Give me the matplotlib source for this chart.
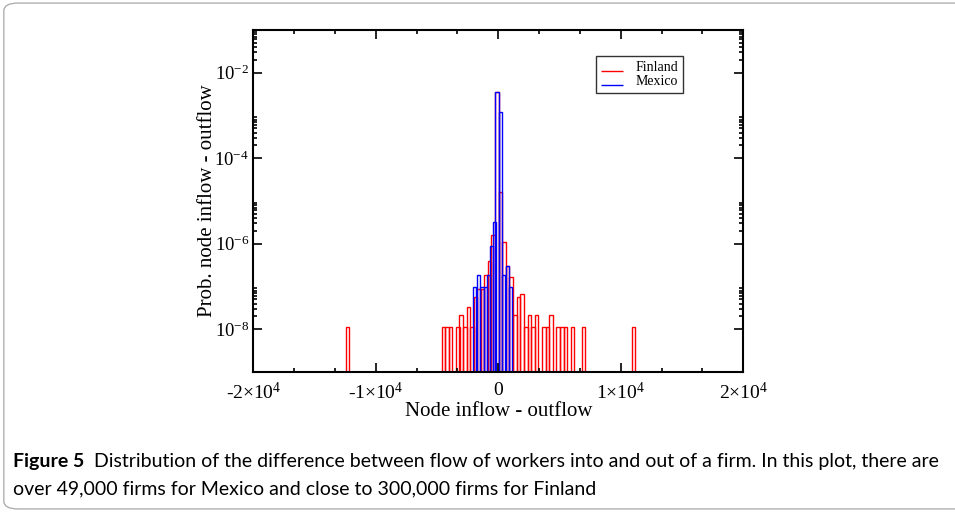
"""Net worker flow per firm: Finland vs Mexico (log-scale histogram)."""
import matplotlib

matplotlib.use("Agg")
import matplotlib.pyplot as plt
from matplotlib.patches import FancyBboxPatch

plt.rcParams["font.family"] = ["Liberation Serif", "DejaVu Serif"]
plt.rcParams["mathtext.fontset"] = "custom"
plt.rcParams["mathtext.rm"] = "Liberation Serif"
plt.rcParams["mathtext.it"] = "Liberation Serif:italic"

# --- data ---------------------------------------------------------------
fin_width = 292
fin_centers = [-12300, -4470, -4180, -3890, -3310, -3020, -2730, -2440, -2150,
               -1860, -1570, -1280, -990, -700, -410, -120, 175, 470, 765,
               1060, 1355, 1650, 1945, 2240, 2535, 2830, 3125, 3715, 4010,
               4305, 4895, 5190, 5485, 6075, 6960, 11040]
fin_probs = [1.1e-8, 1.1e-8, 1.1e-8, 1.1e-8, 1.1e-8, 2.2e-8, 1.1e-8, 3.3e-8, 1.1e-8,
             5.7e-8, 8.8e-8, 8.8e-8, 1.9e-7, 4e-7, 1.6e-6, 3.5e-3, 1.6e-5, 1.1e-6, 3e-7,
             1.7e-7, 2.2e-8, 5.7e-8, 6.8e-8, 1.1e-8, 2.2e-8, 1.1e-8, 2.2e-8, 1.1e-8,
             1.1e-8, 2.2e-8, 1.1e-8, 1.1e-8, 1.1e-8, 1.1e-8, 1.1e-8, 1.1e-8]

mex_width = 272
mex_centers = [-1943, -1616, -1331, -1061, -784, -539, -327, -106, 163, 449, 735, 996]
mex_probs = [9.8e-8, 1.9e-7, 9.8e-8, 9.8e-8, 1.9e-7, 8.7e-7, 3.3e-6, 3.5e-3,
             1.2e-3, 1.9e-7, 3e-7, 9.8e-8]

x_ticks = [-20000, -10000, 0, 10000, 20000]
x_ticklabels = ["-2×10$^{4}$", "-1×10$^{4}$", "0", "1×10$^{4}$", "2×10$^{4}$"]
y_ticks = [1e-2, 1e-4, 1e-6, 1e-8]
y_ticklabels = ["10$^{-2}$", "10$^{-4}$", "10$^{-6}$", "10$^{-8}$"]

caption_bold = "Figure 5"
caption_rest = ("  Distribution of the difference between flow of workers into and out of a "
                "firm. In this plot, there are")
caption_line2 = "over 49,000 firms for Mexico and close to 300,000 firms for Finland"


def main() -> int:
    fig = plt.figure(figsize=(9.55, 5.12), dpi=100)
    ax = fig.add_axes([0.2652, 0.2734, 0.5131, 0.668])

    ax.bar(fin_centers, fin_probs, width=fin_width, bottom=1e-12, fill=False,
           edgecolor="#ff0000", linewidth=1.0, label="Finland")
    ax.bar(mex_centers, mex_probs, width=mex_width, bottom=1e-12, fill=False,
           edgecolor="#0000ff", linewidth=1.0, label="Mexico")

    ax.set_yscale("log")
    ax.set_xlim(-20000, 20000)
    ax.set_ylim(1e-9, 1e-1)

    ax.set_xticks(x_ticks)
    ax.set_xticklabels(x_ticklabels, fontsize=14)
    ax.set_xticks([-50000 / 3, -40000 / 3, -20000 / 3, -10000 / 3,
                   10000 / 3, 20000 / 3, 40000 / 3, 50000 / 3], minor=True)
    ax.set_yticks(y_ticks)
    ax.set_yticklabels(y_ticklabels, fontsize=13.5)
    ax.set_yticks([k * 10.0 ** e for e in (-2, -4, -6, -8) for k in range(2, 10)],
                  minor=True)
    ax.yaxis.set_minor_formatter(plt.NullFormatter())

    ax.tick_params(which="both", direction="in", top=True, right=True, width=1.2)
    ax.tick_params(which="major", length=6.5)
    ax.tick_params(which="minor", length=3)
    ax.tick_params(axis="x", which="major", pad=7)
    ax.tick_params(axis="y", which="major", pad=3)
    for s in ax.spines.values():
        s.set_linewidth(1.5)

    ax.set_xlabel("Node inflow - outflow", fontsize=15, labelpad=-1)
    ax.set_ylabel("Prob. node inflow - outflow", fontsize=15, labelpad=-2)

    leg = ax.legend(loc="upper left", bbox_to_anchor=(0.70, 0.925), fontsize=10,
                    frameon=True, fancybox=False, edgecolor="black",
                    handlelength=1.6, handletextpad=0.9, borderpad=0.35,
                    labelspacing=0.1, borderaxespad=0)
    leg.get_frame().set_linewidth(1.0)
    for h in leg.legend_handles:
        h.set_height(0)

    # rounded frame and caption
    fig.patches.append(FancyBboxPatch((0.004, 0.006), 1.2, 0.988,
                                      boxstyle="round,pad=0,rounding_size=0.015",
                                      transform=fig.transFigure, fill=False,
                                      edgecolor="#b0b0b0", linewidth=1.0))
    t = fig.text(0.0133, 0.0885, caption_bold, fontsize=14, family="Lato",
                 weight="bold", va="baseline")
    fig.canvas.draw()
    bb = t.get_window_extent()
    fig.text(bb.x1 / fig.bbox.width, 0.0885, caption_rest, fontsize=14,
             family="Lato", va="baseline")
    fig.text(0.0133, 0.035, caption_line2, fontsize=14, family="Lato",
             va="baseline")

    fig.savefig("out.png", dpi=100)
    plt.close(fig)
    return 0


if __name__ == "__main__":
    raise SystemExit(main())
